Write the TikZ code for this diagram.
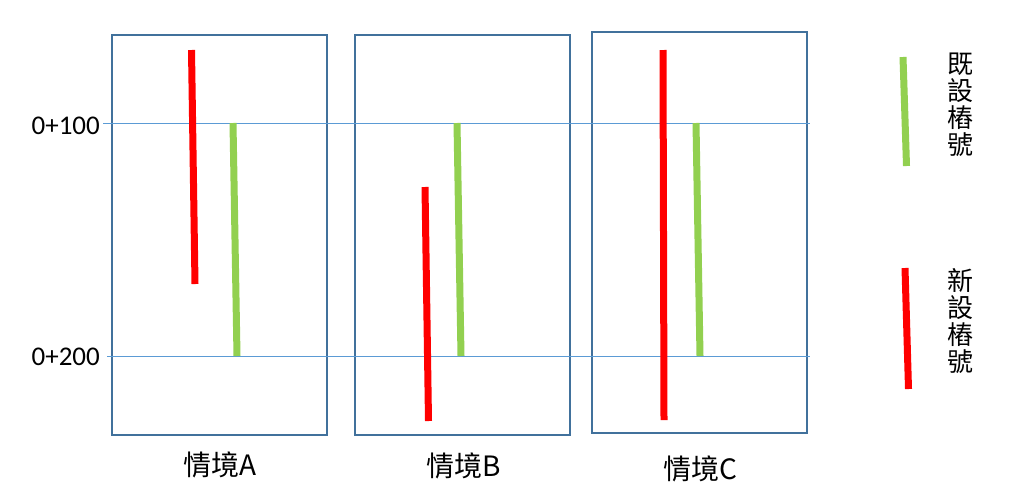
\documentclass[tikz,border=0pt]{standalone}
\usepackage{fontspec}
\setmainfont{Noto Sans CJK TC}
\newfontfamily\numfont{Carlito}
\definecolor{boxblue}{HTML}{41719C}
\definecolor{lineblue}{HTML}{5B9BD5}
\definecolor{oldgreen}{HTML}{92D050}
\definecolor{newred}{HTML}{FF0000}
\tikzset{
  scen/.style={draw=boxblue, line width=1.6pt},
  grid/.style={draw=lineblue, line width=0.9pt},
  oldbar/.style={draw=oldgreen, line width=7pt},
  newbar/.style={draw=newred, line width=7pt},
  station/.style={font=\numfont\fontsize{27}{30}\selectfont, anchor=east, inner sep=0pt},
  caption/.style={font=\fontsize{28}{30}\selectfont, inner sep=0pt},
  legtext/.style={font=\fontsize{26}{27}\selectfont, align=center, inner sep=0pt, anchor=north}
}
\begin{document}
\begin{tikzpicture}[x=1pt,y=-1pt]
\useasboundingbox (0,0) rectangle (1011,496);
% scenario boxes
\draw[scen] (112,35) rectangle (327,435);
\draw[scen] (355,35) rectangle (570,435);
\draw[scen] (592,32) rectangle (807,433);
% station lines
\draw[grid] (103,123) -- (810,123);
\draw[grid] (107,356) -- (810,356);
\node[station] (s100) at (100,126) {0+100};
\node[station] (s200) at (100,357) {0+200};
% bars A
\draw[newbar] (191.5,50) -- (195,284);
\draw[oldbar] (233,123) -- (237,356);
% bars B
\draw[newbar] (425,187) -- (428.5,421);
\draw[oldbar] (457,123) -- (461,356);
% bars C
\draw[newbar] (663,50) -- (664,420);
\draw[oldbar] (696,123) -- (700,356);
% captions
\node[caption] (ca) at (220,465) {情境A};
\node[caption] (cb) at (464,466) {情境B};
\node[caption] (cc) at (700,469) {情境C};
% legend
\draw[oldbar] (903,57) -- (906.5,166);
\draw[newbar] (905,268) -- (908.5,389);
\node[legtext] (lold) at (960,53) {既\\設\\樁\\號};
\node[legtext] (lnew) at (960,268) {新\\設\\樁\\號};
\end{tikzpicture}
\end{document}
